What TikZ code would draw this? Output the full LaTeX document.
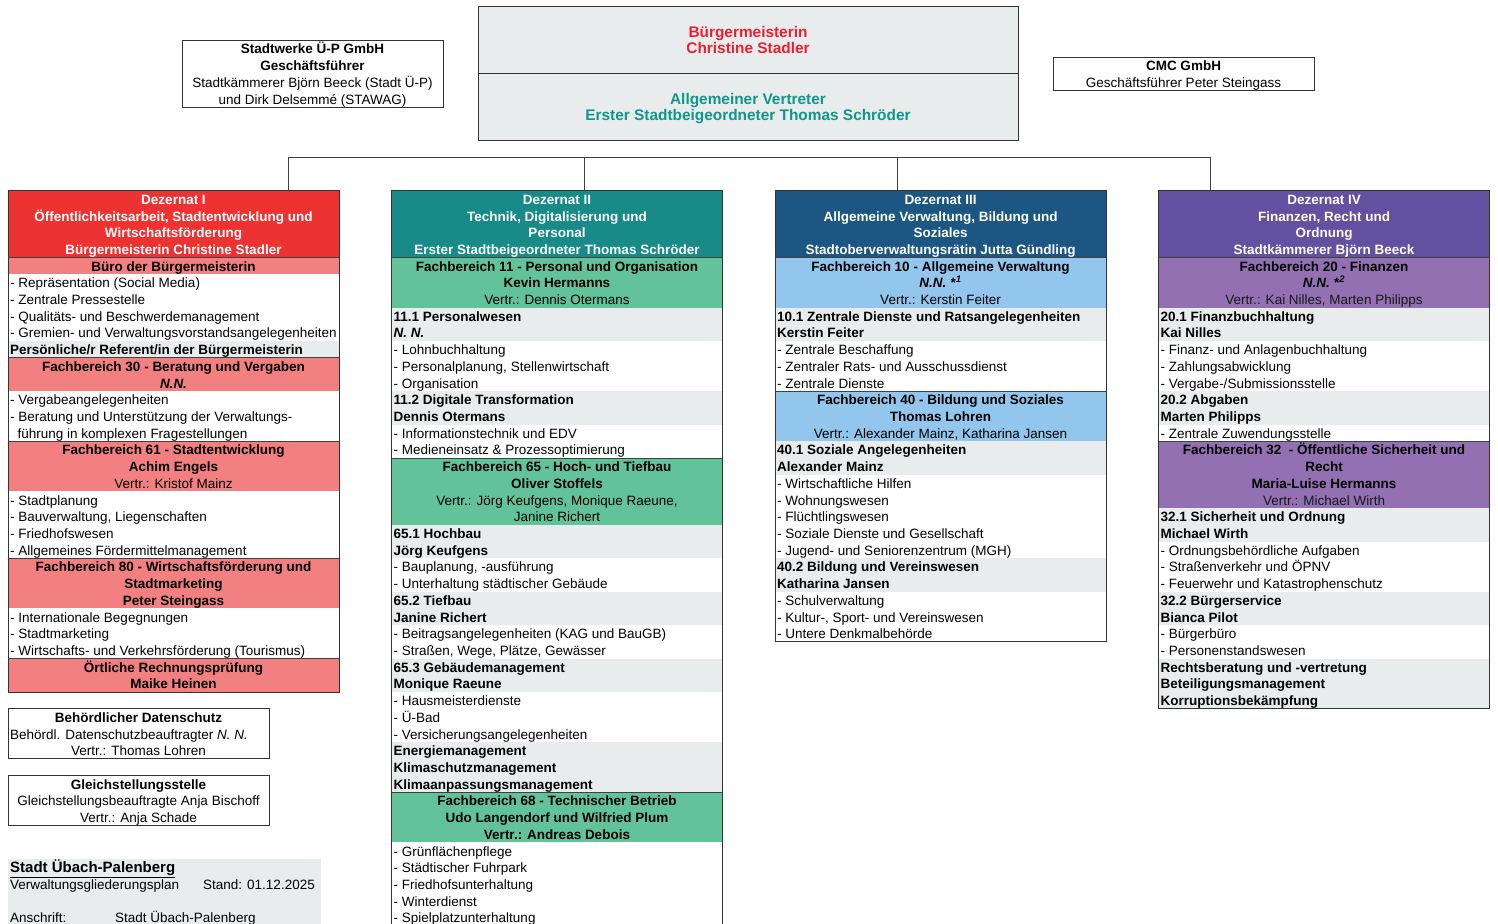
\documentclass[tikz,border=0pt]{standalone}
\usepackage{fontspec}
\setmainfont{Liberation Sans}
\usetikzlibrary{positioning}

\definecolor{dezIred}{RGB}{237,50,50}
\definecolor{fbIpink}{RGB}{242,128,128}
\definecolor{dezIIteal}{RGB}{24,138,136}
\definecolor{fbIIgreen}{RGB}{98,194,154}
\definecolor{dezIIIblue}{RGB}{28,86,130}
\definecolor{fbIIIblue}{RGB}{146,198,236}
\definecolor{dezIVviolet}{RGB}{98,80,160}
\definecolor{fbIVviolet}{RGB}{146,112,178}
\definecolor{rowgrey}{RGB}{232,236,236}
\definecolor{bmred}{RGB}{232,32,48}
\definecolor{vtteal}{RGB}{16,150,138}

\newcommand{\cellfont}{\fontsize{13.5}{16.71}\selectfont}
\newcommand{\topfont}{\fontsize{15.4}{16.71}\selectfont\bfseries}
% fill rows #1..#2 of a column
\newcommand{\band}[3]{\fill[#3] (0,#1-0.5) rectangle (331,#2+0.5);}

\tikzset{
  cell/.style={inner sep=0pt,text height=13.4pt,text depth=2.8pt,font=\cellfont},
  dezhead/.style={cell,font=\cellfont\bfseries,text=white},
  fbhead/.style={cell,font=\cellfont\bfseries},
  fbdeputy/.style={cell},
  unit/.style={cell,anchor=west,font=\cellfont\bfseries},
  task/.style={cell,anchor=west},
  gridline/.style={line width=0.7pt,black!75},
  frame/.style={line width=0.9pt,black!80},
}

\begin{document}
\begin{tikzpicture}[x=1pt,y=-16.71pt]
\useasboundingbox (0,-11.909) rectangle (1498,43.327);
\clip (0,-11.909) rectangle (1498,43.327);

% Buergermeisterin / Vertreter
\draw[frame,fill=rowgrey] (478,-11.5) rectangle (1018,-3.5);
\draw[frame] (478,-7.5) -- (1018,-7.5);
\node[cell,font=\topfont,text=bmred] (bm1) at (748,-10) {Bürgermeisterin};
\node[cell,font=\topfont,text=bmred] (bm2) at (748,-9) {Christine Stadler};
\node[cell,font=\topfont,text=vtteal] (vt1) at (748,-6) {Allgemeiner Vertreter};
\node[cell,font=\topfont,text=vtteal] (vt2) at (748,-5) {Erster Stadtbeigeordneter Thomas Schröder};

% Stadtwerke
\draw[frame,fill=white] (182,-9.5) rectangle (443,-5.5);
\node[fbhead] (stw1) at (312.5,-9) {Stadtwerke Ü-P GmbH};
\node[fbhead] (stw2) at (312.5,-8) {Geschäftsführer};
\node[cell] (stw3) at (312.5,-7) {Stadtkämmerer Björn Beeck (Stadt Ü-P)};
\node[cell] (stw4) at (312.5,-6) {und Dirk Delsemmé (STAWAG)};

% CMC
\draw[frame,fill=white] (1053,-8.5) rectangle (1314,-6.5);
\node[fbhead] (cmc1) at (1183.5,-8) {CMC GmbH};
\node[cell] (cmc2) at (1183.5,-7) {Geschäftsführer Peter Steingass};

% connectors
\coordinate (d1in) at (288,-0.5);
\coordinate (d2in) at (584,-0.5);
\coordinate (d3in) at (897,-0.5);
\coordinate (d4in) at (1210,-0.5);
\draw[gridline] (d1in) -- ++(0,-2) -| (d4in);
\draw[gridline] (d2in) -- ++(0,-2);
\draw[gridline] (d3in) -- ++(0,-2);

% Dezernat I
\begin{scope}[xshift=8pt]
\band{0}{3}{dezIred}
\band{4}{4}{fbIpink}
\band{9}{9}{rowgrey}
\band{10}{11}{fbIpink}
\band{15}{17}{fbIpink}
\band{22}{24}{fbIpink}
\band{28}{29}{fbIpink}
\foreach \k in {3.5,9.5,14.5,21.5,27.5}
  \draw[gridline] (0,\k) -- (331,\k);
\draw[frame] (0,-0.5) rectangle (331,29.5);
\foreach \r/\t in {0/{Dezernat I},1/{Öffentlichkeitsarbeit, Stadtentwicklung und},
    2/{Wirtschaftsförderung},3/{Bürgermeisterin Christine Stadler}}
  \node[dezhead] (d1-\r) at (165.5,\r) {\t};
\foreach \r/\t in {4/{Büro der Bürgermeisterin},10/{Fachbereich 30 - Beratung und Vergaben},
    11/{\textit{N.N.}},15/{Fachbereich 61 - Stadtentwicklung},16/{Achim Engels},
    22/{Fachbereich 80 - Wirtschaftsförderung und},23/{Stadtmarketing},24/{Peter Steingass},
    28/{Örtliche Rechnungsprüfung},29/{Maike Heinen}}
  \node[fbhead] (d1-\r) at (165.5,\r) {\t};
\node[fbdeputy] (d1-17) at (165.5,17) {Vertr.: Kristof Mainz};
\node[unit] (d1-9) at (2,9) {Persönliche/r Referent/in der Bürgermeisterin};
\foreach \r/\t in {5/{- Repräsentation (Social Media)},6/{- Zentrale Pressestelle},
    7/{- Qualitäts- und Beschwerdemanagement},8/{- Gremien- und Verwaltungsvorstandsangelegenheiten},
    12/{- Vergabeangelegenheiten},13/{- Beratung und Unterstützung der Verwaltungs-},
    14/{\ \ führung in komplexen Fragestellungen},18/{- Stadtplanung},
    19/{- Bauverwaltung, Liegenschaften},20/{- Friedhofswesen},
    21/{- Allgemeines Fördermittelmanagement},25/{- Internationale Begegnungen},
    26/{- Stadtmarketing},27/{- Wirtschafts- und Verkehrsförderung (Tourismus)}}
  \node[task] (d1-\r) at (2,\r) {\t};
\end{scope}

% Dezernat II
\begin{scope}[xshift=391.5pt]
\band{0}{3}{dezIIteal}
\band{4}{6}{fbIIgreen}
\band{7}{8}{rowgrey}
\band{12}{13}{rowgrey}
\band{16}{19}{fbIIgreen}
\band{20}{21}{rowgrey}
\band{24}{25}{rowgrey}
\band{28}{29}{rowgrey}
\band{33}{35}{rowgrey}
\band{36}{38}{fbIIgreen}
\foreach \k in {3.5,15.5,35.5}
  \draw[gridline] (0,\k) -- (331,\k);
\draw[frame] (0,-0.5) rectangle (331,46);
\foreach \r/\t in {0/{Dezernat II},1/{Technik, Digitalisierung und},2/{Personal},
    3/{Erster Stadtbeigeordneter Thomas Schröder}}
  \node[dezhead] (d2-\r) at (165.5,\r) {\t};
\foreach \r/\t in {4/{Fachbereich 11 - Personal und Organisation},5/{Kevin Hermanns},
    16/{Fachbereich 65 - Hoch- und Tiefbau},17/{Oliver Stoffels},
    36/{Fachbereich 68 - Technischer Betrieb},37/{Udo Langendorf und Wilfried Plum},
    38/{Vertr.: Andreas Debois}}
  \node[fbhead] (d2-\r) at (165.5,\r) {\t};
\foreach \r/\t in {6/{Vertr.: Dennis Otermans},18/{Vertr.: Jörg Keufgens, Monique Raeune,},
    19/{Janine Richert}}
  \node[fbdeputy] (d2-\r) at (165.5,\r) {\t};
\foreach \r/\t in {7/{11.1 Personalwesen},8/{\textit{N. N.}},12/{11.2 Digitale Transformation},
    13/{Dennis Otermans},20/{65.1 Hochbau},21/{Jörg Keufgens},24/{65.2 Tiefbau},
    25/{Janine Richert},28/{65.3 Gebäudemanagement},29/{Monique Raeune},
    33/{Energiemanagement},34/{Klimaschutzmanagement},35/{Klimaanpassungsmanagement}}
  \node[unit] (d2-\r) at (2,\r) {\t};
\foreach \r/\t in {9/{- Lohnbuchhaltung},10/{- Personalplanung, Stellenwirtschaft},
    11/{- Organisation},14/{- Informationstechnik und EDV},
    15/{- Medieneinsatz \& Prozessoptimierung},22/{- Bauplanung, -ausführung},
    23/{- Unterhaltung städtischer Gebäude},26/{- Beitragsangelegenheiten (KAG und BauGB)},
    27/{- Straßen, Wege, Plätze, Gewässer},30/{- Hausmeisterdienste},31/{- Ü-Bad},
    32/{- Versicherungsangelegenheiten},39/{- Grünflächenpflege},
    40/{- Städtischer Fuhrpark},41/{- Friedhofsunterhaltung},42/{- Winterdienst},
    43/{- Spielplatzunterhaltung}}
  \node[task] (d2-\r) at (2,\r) {\t};
\end{scope}

% Dezernat III
\begin{scope}[xshift=775pt]
\band{0}{3}{dezIIIblue}
\band{4}{6}{fbIIIblue}
\band{7}{8}{rowgrey}
\band{12}{14}{fbIIIblue}
\band{15}{16}{rowgrey}
\band{22}{23}{rowgrey}
\foreach \k in {3.5,11.5}
  \draw[gridline] (0,\k) -- (331,\k);
\draw[frame] (0,-0.5) rectangle (331,26.5);
\foreach \r/\t in {0/{Dezernat III},1/{Allgemeine Verwaltung, Bildung und},2/{Soziales},
    3/{Stadtoberverwaltungsrätin Jutta Gündling}}
  \node[dezhead] (d3-\r) at (165.5,\r) {\t};
\foreach \r/\t in {4/{Fachbereich 10 - Allgemeine Verwaltung},
    5/{\textit{N.N. *}\textsuperscript{\textit{1}}},
    12/{Fachbereich 40 - Bildung und Soziales},13/{Thomas Lohren}}
  \node[fbhead] (d3-\r) at (165.5,\r) {\t};
\foreach \r/\t in {6/{Vertr.: Kerstin Feiter},14/{Vertr.: Alexander Mainz, Katharina Jansen}}
  \node[fbdeputy] (d3-\r) at (165.5,\r) {\t};
\foreach \r/\t in {7/{10.1 Zentrale Dienste und Ratsangelegenheiten},8/{Kerstin Feiter},
    15/{40.1 Soziale Angelegenheiten},16/{Alexander Mainz},
    22/{40.2 Bildung und Vereinswesen},23/{Katharina Jansen}}
  \node[unit] (d3-\r) at (2,\r) {\t};
\foreach \r/\t in {9/{- Zentrale Beschaffung},10/{- Zentraler Rats- und Ausschussdienst},
    11/{- Zentrale Dienste},17/{- Wirtschaftliche Hilfen},18/{- Wohnungswesen},
    19/{- Flüchtlingswesen},20/{- Soziale Dienste und Gesellschaft},
    21/{- Jugend- und Seniorenzentrum (MGH)},24/{- Schulverwaltung},
    25/{- Kultur-, Sport- und Vereinswesen},26/{- Untere Denkmalbehörde}}
  \node[task] (d3-\r) at (2,\r) {\t};
\end{scope}

% Dezernat IV
\begin{scope}[xshift=1158.5pt]
\band{0}{3}{dezIVviolet}
\band{4}{6}{fbIVviolet}
\band{7}{8}{rowgrey}
\band{12}{13}{rowgrey}
\band{15}{18}{fbIVviolet}
\band{19}{20}{rowgrey}
\band{24}{25}{rowgrey}
\band{28}{30}{rowgrey}
\foreach \k in {3.5,14.5}
  \draw[gridline] (0,\k) -- (331,\k);
\draw[frame] (0,-0.5) rectangle (331,30.5);
\foreach \r/\t in {0/{Dezernat IV},1/{Finanzen, Recht und},2/{Ordnung},
    3/{Stadtkämmerer Björn Beeck}}
  \node[dezhead] (d4-\r) at (165.5,\r) {\t};
\foreach \r/\t in {4/{Fachbereich 20 - Finanzen},
    5/{\textit{N.N. *}\textsuperscript{\textit{2}}},
    15/{Fachbereich 32 \ - Öffentliche Sicherheit und},16/{Recht},17/{Maria-Luise Hermanns}}
  \node[fbhead] (d4-\r) at (165.5,\r) {\t};
\foreach \r/\t in {6/{Vertr.: Kai Nilles, Marten Philipps},18/{Vertr.: Michael Wirth}}
  \node[fbdeputy,text=black!90] (d4-\r) at (165.5,\r) {\t};
\foreach \r/\t in {7/{20.1 Finanzbuchhaltung},8/{Kai Nilles},12/{20.2 Abgaben},
    13/{Marten Philipps},19/{32.1 Sicherheit und Ordnung},20/{Michael Wirth},
    24/{32.2 Bürgerservice},25/{Bianca Pilot},28/{Rechtsberatung und -vertretung},
    29/{Beteiligungsmanagement},30/{Korruptionsbekämpfung}}
  \node[unit] (d4-\r) at (2,\r) {\t};
\foreach \r/\t in {9/{- Finanz- und Anlagenbuchhaltung},10/{- Zahlungsabwicklung},
    11/{- Vergabe-/Submissionsstelle},14/{- Zentrale Zuwendungsstelle},
    21/{- Ordnungsbehördliche Aufgaben},22/{- Straßenverkehr und ÖPNV},
    23/{- Feuerwehr und Katastrophenschutz},26/{- Bürgerbüro},27/{- Personenstandswesen}}
  \node[task] (d4-\r) at (2,\r) {\t};
\end{scope}

% Datenschutz, Gleichstellung
\draw[frame,fill=white] (8,30.5) rectangle (269,33.5);
\node[fbhead] (ds1) at (138.5,31) {Behördlicher Datenschutz};
\node[task] (ds2) at (10,32) {Behördl. Datenschutzbeauftragter \textit{N. N.}};
\node[cell] (ds3) at (138.5,33) {Vertr.: Thomas Lohren};
\draw[frame,fill=white] (8,34.5) rectangle (269,37.5);
\node[fbhead] (gs1) at (138.5,35) {Gleichstellungsstelle};
\node[cell] (gs2) at (138.5,36) {Gleichstellungsbeauftragte Anja Bischoff};
\node[cell] (gs3) at (138.5,37) {Vertr.: Anja Schade};

% Stadt / Stand
\fill[rowgrey] (8,39.5) rectangle (321,45);
\node[task,font=\fontsize{15}{16.71}\selectfont\bfseries] (st1) at (10,40) {\underline{Stadt Übach-Palenberg}};
\node[task] (st2) at (10,41) {Verwaltungsgliederungsplan};
\node[task] (st3) at (203,41) {Stand: 01.12.2025};
\node[task] (st4) at (10,43) {Anschrift:};
\node[task] (st5) at (115,43) {Stadt Übach-Palenberg};
\end{tikzpicture}
\end{document}
